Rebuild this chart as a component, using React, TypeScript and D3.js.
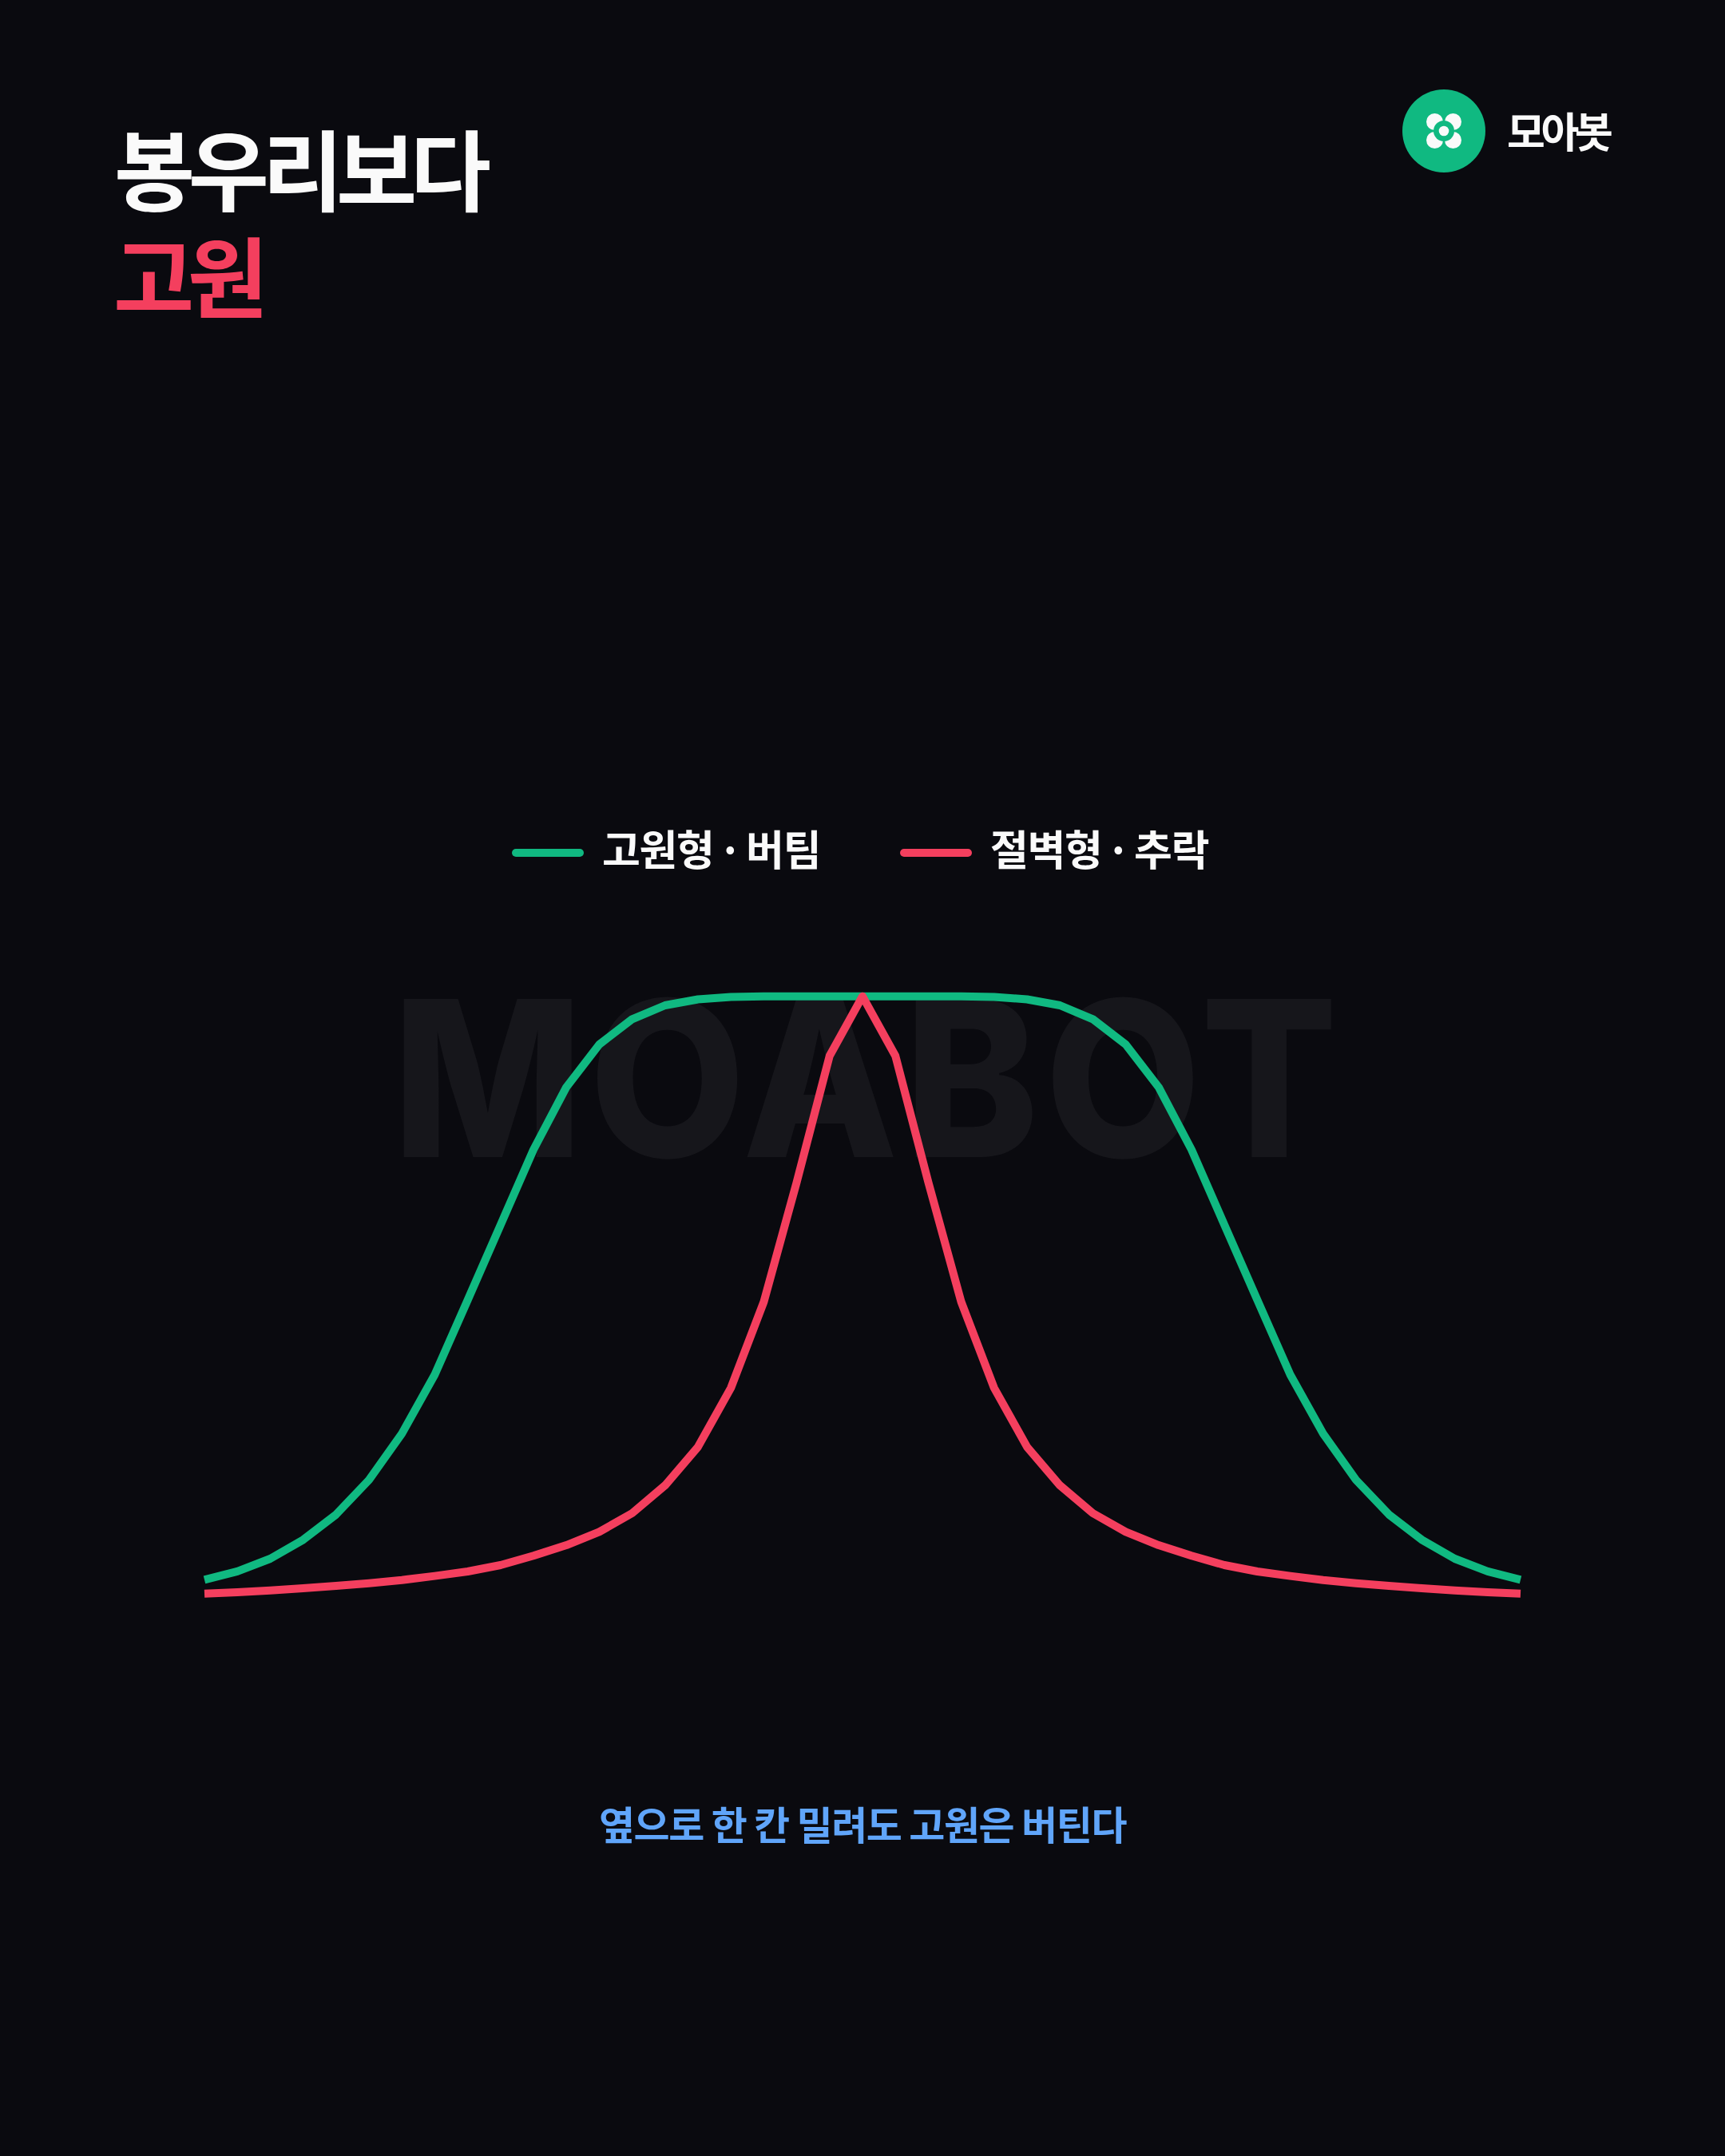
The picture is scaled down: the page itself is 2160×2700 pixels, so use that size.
import * as d3 from 'd3'
import React from 'react'

// values, 0 = baseline, 100 = plateau
const plateauValues = [
  3.0, 4.4, 6.5, 9.65, 13.85, 19.6, 27.3, 37.1, 49.5, 62.0, 74.5, 84.9, 92.0, 96.2, 98.5, 99.5, 99.9, 100, 100, 100,
  100,
  100, 100, 100, 99.9, 99.5, 98.5, 96.2, 92.0, 84.9, 74.5, 62.0, 49.5, 37.1, 27.3, 19.6, 13.85, 9.65, 6.5, 4.4, 3.0,
]
const cliffValues = [
  0.7, 0.93, 1.23, 1.59, 1.99, 2.43, 2.96, 3.63, 4.38, 5.44, 7.0, 8.76, 10.97, 14.07, 18.7, 25.1, 34.9, 49.2, 69.1, 90.1,
  100,
  90.1, 69.1, 49.2, 34.9, 25.1, 18.7, 14.07, 10.97, 8.76, 7.0, 5.44, 4.38, 3.63, 2.96, 2.43, 1.99, 1.59, 1.23, 0.93, 0.7,
]
const titleLines = ['봉우리보다', '고원']
const legendLabels = ['고원형 · 버팀', '절벽형 · 추락']
const brandName = '모아봇'
const watermark = 'MOABOT'
const caption = '옆으로 한 칸 밀려도 고원은 버틴다'

const W = 2160, H = 2700
const BG = '#0a0a0f', GREEN = '#10b981', RED = '#f43f5e', BLUE = '#60a5fa', WHITE = '#fafafa'
const KR = '"Noto Sans CJK KR", "Noto Sans", sans-serif'

export default function App() {
  const
    x = d3.scaleLinear().domain([0, plateauValues.length - 1]).range([256, 1904]),
    y = d3.scaleLinear().domain([0, 100]).range([2001, 1247.7]),
    ln = d3.line<number>().x((_, i) => x(i)).y(d => y(d)).curve(d3.curveLinear),
    series = [
      { values: plateauValues, color: GREEN, label: legendLabels[0], swatch: 641 },
      { values: cliffValues, color: RED, label: legendLabels[1], swatch: 1127 },
    ]

  return (
    <svg width={W} height={H} viewBox={`0 0 ${W} ${H}`} style={{ position: 'absolute', left: 0, top: 0, display: 'block' }}>
      <rect width={W} height={H} fill={BG} />

      <text x={143} y={256} fontFamily={KR} fontWeight={700} fontSize={110} letterSpacing={-8.5} fill={WHITE}>{titleLines[0]}</text>
      <text x={142} y={390} fontFamily={KR} fontWeight={700} fontSize={110} letterSpacing={-8.5} fill={RED}>{titleLines[1]}</text>

      <circle cx={1808} cy={164} r={52} fill={GREEN} />
      {[[-1, -1], [1, -1], [-1, 1], [1, 1]].map(([a, b], i) => (
        <circle key={i} cx={1808 + a * 11.5} cy={164 + b * 11.5} r={10.5} fill={WHITE} />
      ))}
      <circle cx={1808} cy={164} r={13} fill={GREEN} />
      <circle cx={1808} cy={164} r={6.3} fill={WHITE} />
      <text x={1887} y={185} fontFamily={KR} fontWeight={700} fontSize={52} letterSpacing={-5.4} fill={WHITE}>{brandName}</text>

      {series.map(s => (
        <g key={s.label}>
          <line x1={s.swatch + 5} x2={s.swatch + 85} y1={1068} y2={1068} stroke={s.color} strokeWidth={10} strokeLinecap='round' />
          <text x={s.swatch + 113} y={1084} fontFamily={KR} fontWeight={700} fontSize={52} letterSpacing={-1.3} wordSpacing={-5} fill={WHITE}>{s.label}</text>
        </g>
      ))}

      <text transform='translate(1087,1449) scale(.93,1)' textAnchor='middle' fontFamily='Inter, sans-serif' fontWeight={800} fontSize={272} letterSpacing={8.5} fill='#16161b'>{watermark}</text>

      {series.map(s => (
        <path key={s.color} d={ln(s.values) as string} fill='none' stroke={s.color} strokeWidth={10} strokeLinejoin='round' />
      ))}

      <text x={1080} y={2304} textAnchor='middle' fontFamily={KR} fontWeight={600} fontSize={49} letterSpacing={-1.4} fill={BLUE}>{caption}</text>
    </svg>
  )
}
